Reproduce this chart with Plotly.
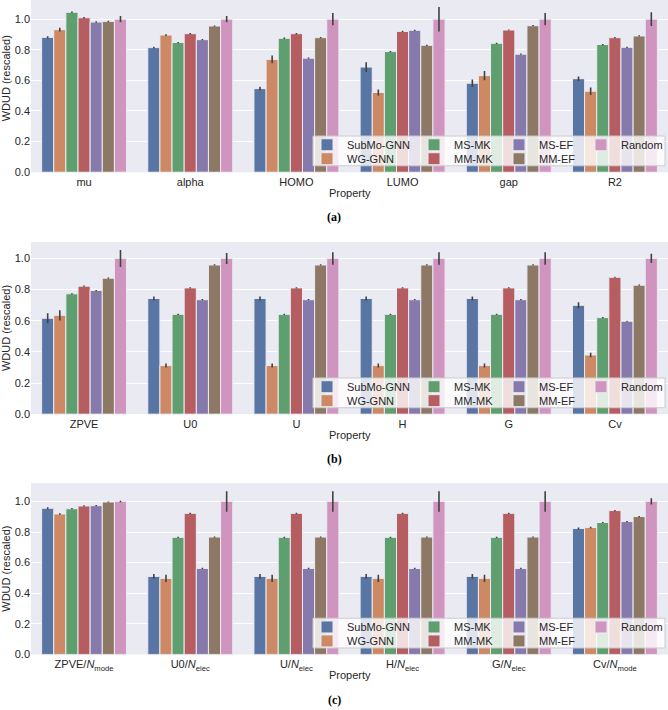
import plotly.graph_objects as go

W, H = 668, 710

methods = ["SubMo-GNN", "WG-GNN", "MS-MK", "MM-MK", "MS-EF", "MM-EF", "Random"]
colors = ["#5975a4", "#cc8963", "#5f9e6e", "#b55d60", "#857aab", "#8d7866", "#d095bf"]

# ---------------- Panel (a) ----------------
props_a = ["mu", "alpha", "HOMO", "LUMO", "gap", "R2"]
vals_a = {
    "SubMo-GNN": [0.881, 0.814, 0.546, 0.687, 0.581, 0.611],
    "WG-GNN":    [0.931, 0.896, 0.737, 0.521, 0.631, 0.529],
    "MS-MK":     [1.045, 0.847, 0.875, 0.788, 0.842, 0.834],
    "MM-MK":     [1.009, 0.905, 0.905, 0.920, 0.929, 0.879],
    "MS-EF":     [0.981, 0.866, 0.745, 0.927, 0.771, 0.816],
    "MM-EF":     [0.985, 0.955, 0.879, 0.829, 0.957, 0.890],
    "Random":    [1.000, 1.000, 1.000, 1.000, 1.000, 1.000],
}
errs_a = {
    "SubMo-GNN": [0.008, 0.006, 0.012, 0.032, 0.025, 0.015],
    "WG-GNN":    [0.012, 0.006, 0.025, 0.020, 0.030, 0.024],
    "MS-MK":     [0.005, 0.004, 0.005, 0.004, 0.004, 0.004],
    "MM-MK":     [0.005, 0.005, 0.005, 0.004, 0.004, 0.004],
    "MS-EF":     [0.005, 0.004, 0.004, 0.004, 0.004, 0.004],
    "MM-EF":     [0.004, 0.004, 0.004, 0.004, 0.004, 0.004],
    "Random":    [0.020, 0.020, 0.040, 0.080, 0.040, 0.045],
}

# ---------------- Panel (b) ----------------
props_b = ["ZPVE", "U0", "U", "H", "G", "Cv"]
vals_b = {
    "SubMo-GNN": [0.616, 0.743, 0.743, 0.743, 0.743, 0.699],
    "WG-GNN":    [0.635, 0.312, 0.312, 0.312, 0.312, 0.380],
    "MS-MK":     [0.773, 0.641, 0.641, 0.641, 0.641, 0.620],
    "MM-MK":     [0.822, 0.811, 0.811, 0.811, 0.811, 0.879],
    "MS-EF":     [0.794, 0.735, 0.735, 0.735, 0.735, 0.597],
    "MM-EF":     [0.873, 0.958, 0.958, 0.958, 0.958, 0.828],
    "Random":    [1.000, 1.000, 1.000, 1.000, 1.000, 1.000],
}
errs_b = {
    "SubMo-GNN": [0.032, 0.013, 0.013, 0.013, 0.013, 0.020],
    "WG-GNN":    [0.033, 0.013, 0.013, 0.013, 0.013, 0.015],
    "MS-MK":     [0.004, 0.004, 0.004, 0.004, 0.004, 0.004],
    "MM-MK":     [0.004, 0.004, 0.004, 0.004, 0.004, 0.003],
    "MS-EF":     [0.004, 0.004, 0.004, 0.004, 0.004, 0.003],
    "MM-EF":     [0.004, 0.004, 0.004, 0.004, 0.004, 0.004],
    "Random":    [0.055, 0.035, 0.040, 0.040, 0.040, 0.030],
}

# ---------------- Panel (c) ----------------
props_c = ["ZPVE/N_mode", "U0/N_elec", "U/N_elec", "H/N_elec", "G/N_elec", "Cv/N_mode"]
ticks_c = ["ZPVE/<i>N</i><sub>mode</sub>", "U0/<i>N</i><sub>elec</sub>", "U/<i>N</i><sub>elec</sub>",
           "H/<i>N</i><sub>elec</sub>", "G/<i>N</i><sub>elec</sub>", "Cv/<i>N</i><sub>mode</sub>"]
vals_c = {
    "SubMo-GNN": [0.955, 0.510, 0.510, 0.510, 0.510, 0.823],
    "WG-GNN":    [0.918, 0.497, 0.497, 0.497, 0.497, 0.829],
    "MS-MK":     [0.952, 0.765, 0.765, 0.765, 0.765, 0.862],
    "MM-MK":     [0.970, 0.922, 0.922, 0.922, 0.922, 0.940],
    "MS-EF":     [0.972, 0.562, 0.562, 0.562, 0.562, 0.868],
    "MM-EF":     [0.996, 0.767, 0.767, 0.767, 0.767, 0.901],
    "Random":    [1.000, 1.000, 1.000, 1.000, 1.000, 1.000],
}
errs_c = {
    "SubMo-GNN": [0.007, 0.015, 0.015, 0.015, 0.015, 0.006],
    "WG-GNN":    [0.005, 0.024, 0.024, 0.024, 0.024, 0.006],
    "MS-MK":     [0.004, 0.004, 0.004, 0.004, 0.004, 0.004],
    "MM-MK":     [0.004, 0.004, 0.004, 0.004, 0.004, 0.004],
    "MS-EF":     [0.004, 0.004, 0.004, 0.004, 0.004, 0.004],
    "MM-EF":     [0.004, 0.004, 0.004, 0.004, 0.004, 0.004],
    "Random":    [0.005, 0.067, 0.067, 0.067, 0.067, 0.020],
}

y_ticks = [0.0, 0.2, 0.4, 0.6, 0.8, 1.0]
y_ticktext = ["0.0", "0.2", "0.4", "0.6", "0.8", "1.0"]

FONT = "Liberation Sans, Arial, sans-serif"
TXT = "#262626"
BG = "#EAEAF2"

# panel pixel geometry: (top, bottom) of plot area, y max, y-title centre
panels = [
    dict(props=props_a, ticks=props_a, vals=vals_a, errs=errs_a, top=0.0, bot=173.7, ymax=1.125, ymid=79.0, tag="(a)"),
    dict(props=props_b, ticks=props_b, vals=vals_b, errs=errs_b, top=244.0, bot=417.7, ymax=1.106, ymid=330.9, tag="(b)"),
    dict(props=props_c, ticks=ticks_c, vals=vals_c, errs=errs_c, top=487.3, bot=660.0, ymax=1.119, ymid=573.6, tag="(c)"),
]
X0 = 31.0

def px(x):
    return x / W

def py(y):
    return 1 - y / H

fig = go.Figure()
layout = dict(
    width=W, height=H,
    margin=dict(l=0, r=0, t=0, b=0),
    paper_bgcolor="white",
    plot_bgcolor=BG,
    font=dict(family=FONT, size=11, color=TXT),
    barmode="group", bargap=0.2, bargroupgap=0.0,
    shapes=[], annotations=[],
)

# legend layout: column-major like matplotlib ncol=4
leg_cols = {"SubMo-GNN": (0, 0), "WG-GNN": (0, 1), "MS-MK": (1, 0), "MM-MK": (1, 1),
            "MS-EF": (2, 0), "MM-EF": (2, 1), "Random": (3, 0)}
col_cx = [327, 434, 519, 603]

leg_idx = 0
for p, pan in enumerate(panels):
    sfx = "" if p == 0 else str(p + 1)
    xa, ya = "x" + sfx, "y" + sfx
    for m, c in zip(methods, colors):
        leg_idx += 1
        lname = "legend" if leg_idx == 1 else f"legend{leg_idx}"
        fig.add_trace(go.Bar(
            x=pan["props"], y=pan["vals"][m], name=m,
            marker=dict(color=c, line=dict(color=BG, width=1)),
            error_y=dict(type="data", array=pan["errs"][m], color="#424242", thickness=1.6, width=0),
            xaxis=xa, yaxis=ya, legend=lname, showlegend=True,
        ))
        col, row = leg_cols[m]
        cy = pan["bot"] - (28.7 if row == 0 else 14.6) + 1
        if m == "Random":
            lx, xanc = 1.0, "right"
        else:
            lx, xanc = px(col_cx[col] - 20), "left"
        layout[lname] = dict(
            x=lx, y=py(cy), xanchor=xanc, yanchor="middle",
            bgcolor="rgba(0,0,0,0)", borderwidth=0,
            font=dict(family=FONT, size=11, color=TXT),
        )
    layout["xaxis" + sfx] = dict(
        domain=[px(X0), 1.0], anchor=ya, range=[-0.5, 5.5],
        showgrid=False, zeroline=False, showline=False, ticks="",
        tickvals=pan["props"], ticktext=pan["ticks"], ticklabelstandoff=2,
        tickfont=dict(family=FONT, size=11, color=TXT),
    )
    layout["yaxis" + sfx] = dict(
        domain=[py(pan["bot"]), py(pan["top"])], anchor=xa, range=[0, pan["ymax"]],
        showgrid=True, gridcolor="white", gridwidth=1, zeroline=False, showline=False,
        tickvals=y_ticks, ticktext=y_ticktext, ticks="",
        tickfont=dict(family=FONT, size=11, color=TXT),
    )
    # legend frame
    layout["shapes"].append(dict(
        type="rect", xref="paper", yref="paper", layer="above",
        x0=px(313), x1=px(665), y0=py(pan["bot"] - 6.5), y1=py(pan["bot"] - 36.5),
        fillcolor="rgba(255,255,255,0.8)", line=dict(color="#cccccc", width=1),
    ))
    layout["annotations"].append(dict(
        text="WDUD (rescaled)", x=px(6), y=py(pan["ymid"]), xref="paper", yref="paper",
        textangle=-90, showarrow=False, xanchor="center", yanchor="middle",
        font=dict(family=FONT, size=11, color=TXT),
    ))
    layout["annotations"].append(dict(
        text="Property", x=px((X0 + W) / 2), y=py(pan["bot"] + 21.2), xref="paper", yref="paper",
        showarrow=False, xanchor="center", yanchor="middle",
        font=dict(family=FONT, size=11, color=TXT),
    ))
    layout["annotations"].append(dict(
        text="<b>" + pan["tag"] + "</b>", x=px(334), y=py(pan["bot"] + 45.5), xref="paper", yref="paper",
        showarrow=False, xanchor="center", yanchor="middle",
        font=dict(family="Liberation Serif, Times New Roman, serif", size=12, color="black"),
    ))

fig.update_layout(**layout)
fig.write_html("out.html", config={"displayModeBar": False},
               post_script="document.body.style.margin='0';document.body.style.padding='0';")
